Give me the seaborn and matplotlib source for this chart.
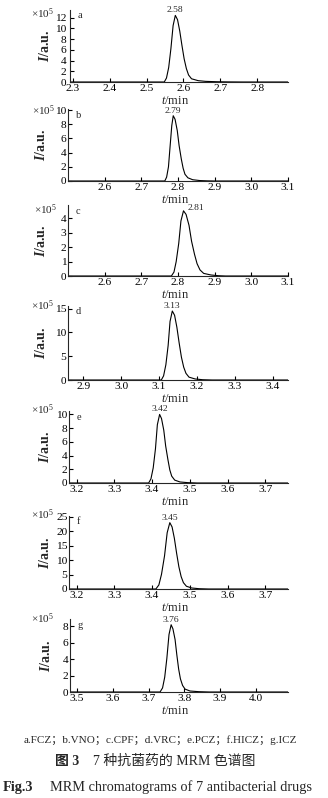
import numpy as np
import pandas as pd
import matplotlib
matplotlib.use("Agg")
import matplotlib.pyplot as plt
import seaborn as sns

# ---------------- data ----------------
panel_letters = ["a", "b", "c", "d", "e", "f", "g"]
peak_labels = ["2.58", "2.79", "2.81", "3.13", "3.42", "3.45", "3.76"]

t_a = [2.292, 2.548, 2.554, 2.560, 2.566, 2.572, 2.578, 2.584, 2.590, 2.596, 2.602, 2.608, 2.614, 2.622, 2.640, 2.660, 2.690, 2.720, 2.760, 2.884]
i_a = [0, 0, 0.74, 2.7, 6.2, 10.5, 12.4, 11.6, 9.5, 6.8, 4.3, 2.5, 1.3, 0.6, 0.25, 0.12, 0.05, 0.02, 0, 0]

t_b = [2.50, 2.764, 2.769, 2.774, 2.778, 2.783, 2.787, 2.792, 2.798, 2.803, 2.809, 2.814, 2.819, 2.827, 2.840, 2.860, 2.880, 2.900, 3.10]
i_b = [0, 0, 0.55, 2.0, 4.6, 7.8, 9.2, 8.7, 7.1, 5.0, 3.1, 1.8, 0.95, 0.45, 0.18, 0.06, 0.02, 0, 0]

t_c = [2.50, 2.782, 2.789, 2.795, 2.802, 2.808, 2.815, 2.822, 2.830, 2.837, 2.845, 2.852, 2.860, 2.870, 2.890, 2.910, 2.930, 3.10]
i_c = [0, 0, 0.27, 0.99, 2.25, 3.8, 4.5, 4.25, 3.5, 2.4, 1.5, 0.85, 0.42, 0.18, 0.07, 0.02, 0, 0]

t_d = [2.86, 3.106, 3.112, 3.118, 3.124, 3.129, 3.135, 3.141, 3.147, 3.153, 3.159, 3.165, 3.171, 3.179, 3.195, 3.215, 3.240, 3.44]
i_d = [0, 0, 0.87, 3.2, 7.25, 12.3, 14.5, 13.6, 11.1, 7.8, 4.8, 2.7, 1.4, 0.6, 0.22, 0.06, 0, 0]

t_e = [3.18, 3.391, 3.397, 3.403, 3.409, 3.414, 3.420, 3.425, 3.431, 3.436, 3.442, 3.447, 3.452, 3.460, 3.474, 3.495, 3.520, 3.76]
i_e = [0, 0, 0.6, 2.2, 5.0, 8.5, 10.0, 9.4, 7.7, 5.4, 3.4, 1.9, 1.0, 0.42, 0.15, 0.05, 0, 0]

t_f = [3.18, 3.410, 3.418, 3.425, 3.433, 3.440, 3.447, 3.453, 3.459, 3.465, 3.471, 3.477, 3.483, 3.491, 3.505, 3.525, 3.550, 3.76]
i_f = [0, 0, 1.4, 5.1, 11.5, 19.5, 23.0, 21.5, 17.6, 12.4, 7.7, 4.3, 2.2, 0.95, 0.35, 0.1, 0, 0]

t_g = [3.48, 3.732, 3.739, 3.745, 3.751, 3.757, 3.763, 3.768, 3.774, 3.779, 3.784, 3.789, 3.795, 3.802, 3.816, 3.840, 3.870, 4.09]
i_g = [0, 0, 0.5, 1.8, 4.1, 7.0, 8.2, 7.7, 6.4, 4.5, 2.8, 1.6, 0.8, 0.35, 0.12, 0.04, 0, 0]

xticks_list = [
    [2.3, 2.4, 2.5, 2.6, 2.7, 2.8],
    [2.6, 2.7, 2.8, 2.9, 3.0, 3.1],
    [2.6, 2.7, 2.8, 2.9, 3.0, 3.1],
    [2.9, 3.0, 3.1, 3.2, 3.3, 3.4],
    [3.2, 3.3, 3.4, 3.5, 3.6, 3.7],
    [3.2, 3.3, 3.4, 3.5, 3.6, 3.7],
    [3.5, 3.6, 3.7, 3.8, 3.9, 4.0],
]
yticks_list = [
    [0, 2, 4, 6, 8, 10, 12],
    [0, 2, 4, 6, 8, 10],
    [0, 1, 2, 3, 4],
    [0, 5, 10, 15],
    [0, 2, 4, 6, 8, 10],
    [0, 5, 10, 15, 20, 25],
    [0, 2, 4, 6, 8],
]
xlims = [(2.292, 2.884), (2.50, 3.10), (2.50, 3.10), (2.86, 3.44), (3.18, 3.76), (3.18, 3.76), (3.48, 4.09)]
ylims = [(0, 13.4), (0, 10.15), (0, 4.9), (0, 15.55), (0, 10.5), (0, 25.3), (0, 8.9)]

traces = [(t_a, i_a), (t_b, i_b), (t_c, i_c), (t_d, i_d), (t_e, i_e), (t_f, i_f), (t_g, i_g)]

legend_line = "a.FCZ；b.VNO；c.CPF；d.VRC；e.PCZ；f.HICZ；g.ICZ"
cn_title_bold = "图 3"
cn_title = "7 种抗菌药的 MRM 色谱图"
en_title_bold = "Fig.3"
en_title = "MRM chromatograms of 7 antibacterial drugs"

# ---------------- style ----------------
sns.set_style("ticks")
plt.rcParams["font.family"] = ["Liberation Serif", "Noto Sans CJK SC", "DejaVu Sans"]
plt.rcParams["mathtext.fontset"] = "custom"
plt.rcParams["mathtext.rm"] = "Liberation Serif"
plt.rcParams["mathtext.it"] = "Liberation Serif:italic"
plt.rcParams["mathtext.bf"] = "Liberation Serif:bold:italic"
plt.rcParams["axes.linewidth"] = 0.8

W, H = 328, 798
fig = plt.figure(figsize=(W / 100, H / 100), dpi=100)

# axes boxes in pixels: left, right, top, bottom
boxes = [
    (70, 288, 10, 82),
    (68, 288, 109, 181),
    (68, 288, 205, 276),
    (68, 288, 306, 380),
    (69, 288, 411, 483),
    (69, 288, 516, 589),
    (70, 288, 619, 692),
]
mult_pos = [(54, 14), (55, 111), (57, 210), (54, 306), (54, 410), (54, 515), (54, 619)]
ylabel_x = [52, 48, 48, 48, 52, 52, 53]
ytick_pad = [2.5, 1.0, 1.0, 1.0, 1.0, 1.0, 1.0]
label_right = [False, False, True, False, False, False, False]

for k, (l, r, t, b) in enumerate(boxes):
    ax = fig.add_axes([l / W, 1 - b / H, (r - l) / W, (b - t) / H])
    tt, ii = traces[k]
    df = pd.DataFrame({"t": tt, "I": ii})
    sns.lineplot(data=df, x="t", y="I", ax=ax, color="black", lw=0.8, sort=False)
    ax.set_xlim(*xlims[k])
    ax.set_ylim(*ylims[k])
    ax.set_xticks(xticks_list[k])
    ax.set_xticklabels([f"{v:.1f}" for v in xticks_list[k]])
    ax.set_yticks(yticks_list[k])
    ax.set_yticklabels([str(v) for v in yticks_list[k]])
    ax.tick_params(direction="in", length=3, width=0.8, labelsize=8.2, colors="black")
    ax.tick_params(axis="x", pad=1.3)
    ax.tick_params(axis="y", pad=ytick_pad[k])
    sns.despine(ax=ax)
    ax.set_xlabel("$t$/min", fontsize=9, labelpad=0)
    ax.xaxis.set_label_coords((175 - l) / (r - l), -12.8 / (b - t))
    ax.set_ylabel("$\\mathbf{I}$/a.u.", fontsize=10, fontweight="bold", labelpad=0)
    ax.yaxis.set_label_coords(-(l - ylabel_x[k]) / (r - l), 0.5)
    # peak label
    j = int(np.argmax(ii))
    if label_right[k]:
        ax.annotate(peak_labels[k], xy=(tt[j], ii[j]), xytext=(4, -1), textcoords="offset pixels",
                    ha="left", va="bottom", fontsize=6.8)
    else:
        ax.annotate(peak_labels[k], xy=(tt[j], ii[j]), xytext=(0, 1), textcoords="offset pixels",
                    ha="center", va="bottom", fontsize=6.8)
    # panel letter
    ax.annotate(panel_letters[k], xy=(0, 1), xycoords="axes fraction", xytext=(8, -6),
                textcoords="offset pixels", ha="left", va="center", fontsize=7.5)
    # multiplier
    mx, my = mult_pos[k]
    fig.text(mx / W, 1 - my / H, "×10$^5$", ha="right", va="center", fontsize=8)

fig.text(160 / W, 1 - 740 / H, legend_line, ha="center", va="center", fontsize=8)
fig.text(55 / W, 1 - 761 / H, cn_title_bold, ha="left", va="center", fontsize=10, fontweight="bold")
fig.text(93 / W, 1 - 761 / H, cn_title, ha="left", va="center", fontsize=10)
fig.text(3 / W, 1 - 787 / H, en_title_bold, ha="left", va="center", fontsize=10.3, fontweight="bold")
fig.text(50 / W, 1 - 787 / H, en_title, ha="left", va="center", fontsize=10.3)

fig.savefig("out.png", dpi=100)
